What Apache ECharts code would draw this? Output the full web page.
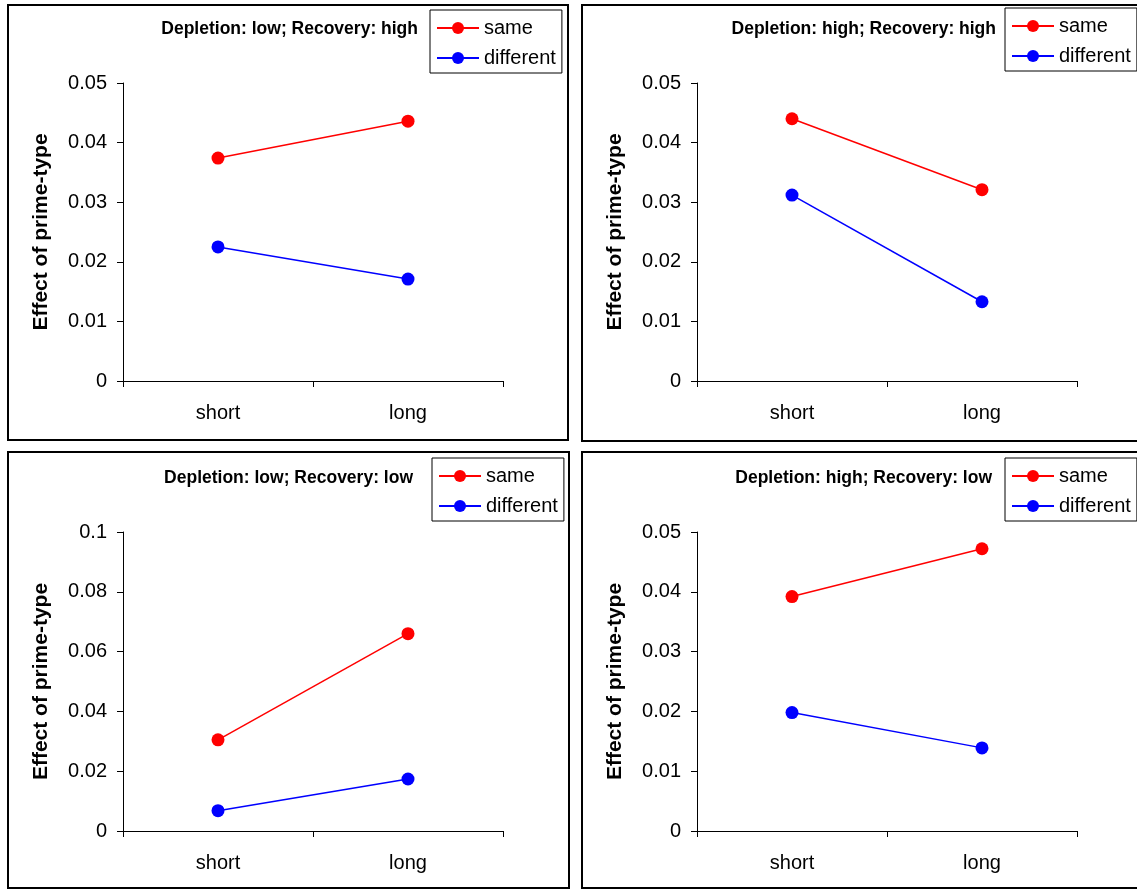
<!DOCTYPE html>
<html>
<head>
<meta charset="utf-8">
<script src="https://cdn.jsdelivr.net/npm/echarts@6/dist/echarts.min.js"></script>
<style>
html,body{margin:0;padding:0;background:#fff;}
#chart{width:1137px;height:890px;}
</style>
</head>
<body>
<div id="chart"></div>
<script>
// ---- data ----
const categories = ['short', 'long'];
const seriesNames = ['same', 'different'];
const panelTitles = [
  'Depletion: low; Recovery: high',
  'Depletion: high; Recovery: high',
  'Depletion: low; Recovery: low',
  'Depletion: high; Recovery: low'
];
const yAxisName = 'Effect of prime-type';
const sameValues1 = [0.0374, 0.0436];
const differentValues1 = [0.0225, 0.0171];
const sameValues2 = [0.0440, 0.0321];
const differentValues2 = [0.0312, 0.0133];
const sameValues3 = [0.0305, 0.0660];
const differentValues3 = [0.0068, 0.0174];
const sameValues4 = [0.0392, 0.0472];
const differentValues4 = [0.0198, 0.0139];
const yMax = [0.05, 0.05, 0.1, 0.05];
const yInterval = [0.01, 0.01, 0.02, 0.01];

// ---- layout ----
const grids = [
  {left: 123, top: 83, width: 380, height: 298},
  {left: 697, top: 83, width: 380, height: 298},
  {left: 123, top: 532, width: 380, height: 299},
  {left: 697, top: 532, width: 380, height: 299}
];
const borders = [
  {x: 8, y: 5, w: 560, h: 435},
  {x: 582, y: 5, w: 600, h: 436},
  {x: 8, y: 452, w: 561, h: 436},
  {x: 582, y: 452, w: 600, h: 436}
];
const titlePos = [
  {right: 1137 - 418, top: 20},
  {right: 1137 - 996, top: 20},
  {right: 1137 - 413, top: 469},
  {right: 1137 - 992, top: 469}
];
const legendPos = [
  {left: 430, top: 10},
  {left: 1005, top: 8},
  {left: 432, top: 458},
  {left: 1005, top: 458}
];
const allValues = [
  [sameValues1, differentValues1],
  [sameValues2, differentValues2],
  [sameValues3, differentValues3],
  [sameValues4, differentValues4]
];
const colors = ['#ff0000', '#0000ff'];
const FONT = '"Liberation Sans", Arial, sans-serif';

const option = {
  backgroundColor: '#fff',
  animation: false,
  grid: grids.map(g => Object.assign({}, g)),
  title: panelTitles.map((t, i) => ({
    text: t,
    right: titlePos[i].right,
    top: titlePos[i].top,
    padding: 0,
    textStyle: {fontFamily: FONT, fontWeight: 'bold', fontSize: 17.5, color: '#000'}
  })),
  legend: legendPos.map(p => ({
    data: seriesNames,
    orient: 'vertical',
    left: p.left,
    top: p.top,
    padding: [8, 6, 5, 6],
    itemGap: 10,
    itemWidth: 42,
    itemHeight: 15,
    borderColor: '#000',
    borderWidth: 1,
    borderRadius: 0,
    backgroundColor: '#fff',
    selectedMode: false,
    textStyle: {fontFamily: FONT, fontSize: 20, color: '#000'}
  })),
  xAxis: grids.map((g, i) => ({
    type: 'category',
    gridIndex: i,
    data: categories,
    boundaryGap: true,
    axisLine: {lineStyle: {color: '#000', width: 1}},
    axisTick: {show: true, length: 6, lineStyle: {color: '#000'}},
    axisLabel: {fontFamily: FONT, fontSize: 20, color: '#000', margin: 22},
    splitLine: {show: false}
  })),
  yAxis: grids.map((g, i) => ({
    type: 'value',
    gridIndex: i,
    min: 0,
    max: yMax[i],
    interval: yInterval[i],
    name: yAxisName,
    nameLocation: 'middle',
    nameGap: 71,
    nameTextStyle: {fontFamily: FONT, fontWeight: 'bold', fontSize: 21, color: '#000'},
    axisLine: {show: true, lineStyle: {color: '#000', width: 1}},
    axisTick: {show: true, length: 6, lineStyle: {color: '#000'}},
    axisLabel: {fontFamily: FONT, fontSize: 20, color: '#000', margin: 16},
    splitLine: {show: false}
  })),
  series: [],
  graphic: borders.map(b => ({
    type: 'rect',
    shape: {x: b.x, y: b.y, width: b.w, height: b.h},
    style: {fill: 'none', stroke: '#000', lineWidth: 2},
    silent: true,
    z: 100
  }))
};

allValues.forEach((pair, i) => {
  pair.forEach((vals, k) => {
    option.series.push({
      name: seriesNames[k],
      type: 'line',
      xAxisIndex: i,
      yAxisIndex: i,
      data: vals,
      symbol: 'circle',
      symbolSize: 13,
      lineStyle: {color: colors[k], width: 1.5},
      itemStyle: {color: colors[k]}
    });
  });
});

const chart = echarts.init(document.getElementById('chart'), null, {renderer: 'canvas'});
chart.setOption(option);
</script>
</body>
</html>
